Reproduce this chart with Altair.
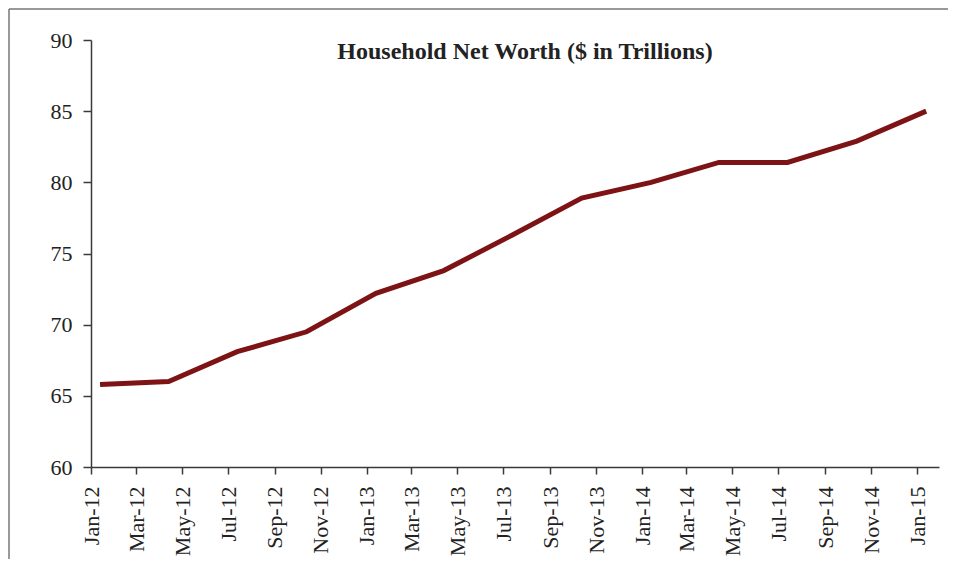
import altair as alt
import pandas as pd

# Quarterly data points
point_dates = ["2012-01-13", "2012-04-13", "2012-07-13", "2012-10-13",
               "2013-01-13", "2013-04-13", "2013-07-13", "2013-10-13",
               "2014-01-13", "2014-04-13", "2014-07-13", "2014-10-13",
               "2015-01-13"]
net_worth = [65.8, 66.0, 68.1, 69.5, 72.2, 73.8, 76.3, 78.9, 80.0, 81.4, 81.4, 82.9, 85.0]

# Axis ticks every two months
tick_months = [(2012, 1), (2012, 3), (2012, 5), (2012, 7), (2012, 9), (2012, 11),
               (2013, 1), (2013, 3), (2013, 5), (2013, 7), (2013, 9), (2013, 11),
               (2014, 1), (2014, 3), (2014, 5), (2014, 7), (2014, 9), (2014, 11),
               (2015, 1)]
y_ticks = [60, 65, 70, 75, 80, 85, 90]
title_text = ["Household Net Worth ($ in Trillions)"]

df = pd.DataFrame({"date": point_dates, "value": net_worth})

tick_vals = [alt.DateTime(year=y, month=m, date=1, utc=True) for y, m in tick_months]

serif = "Liberation Serif"
axis_col = "#3a3a3a"

line = alt.Chart(df).mark_line(color="#7d1315", strokeWidth=5, strokeCap="butt").encode(
    x=alt.X("date:T",
            scale=alt.Scale(type="utc",
                            domain=[alt.DateTime(year=2012, month=1, date=1, utc=True),
                                    alt.DateTime(year=2015, month=1, date=30, utc=True)]),
            axis=alt.Axis(values=tick_vals, format="%b-%y", labelAngle=-90,
                          title=None, labelPadding=12, tickSize=7)),
    y=alt.Y("value:Q",
            scale=alt.Scale(domain=[60, 90], nice=False, zero=False),
            axis=alt.Axis(values=y_ticks, title=None, labelPadding=11, tickSize=8)),
)

title_df = pd.DataFrame({"t": title_text})
title = alt.Chart(title_df).mark_text(font=serif, fontSize=24, fontWeight="bold",
                                      color="#222222", align="center",
                                      baseline="middle").encode(
    text="t:N", x=alt.value(434), y=alt.value(12))

frame_df = pd.DataFrame({"k": [0]})
frame_left = alt.Chart(frame_df).mark_rule(color="#777777", strokeWidth=1.5).encode(
    x=alt.value(-82), y=alt.value(-31), y2=alt.value(540))
frame_top = alt.Chart(frame_df).mark_rule(color="#777777", strokeWidth=1.5).encode(
    x=alt.value(-82), x2=alt.value(870), y=alt.value(-31))

chart = alt.layer(frame_left, frame_top, line, title).properties(
    width=848, height=427,
    background="white",
    autosize=alt.AutoSizeParams(type="none"),
    padding={"left": 83, "top": 32, "right": 9, "bottom": 92},
).configure_view(stroke=None).configure_axis(
    grid=False, domainColor=axis_col, tickColor=axis_col, domainWidth=1.5,
    tickWidth=1.5, labelFont=serif, labelFontSize=22, labelColor="#222222",
)

chart.save("out.html", embed_options={"renderer": "svg", "actions": False})
